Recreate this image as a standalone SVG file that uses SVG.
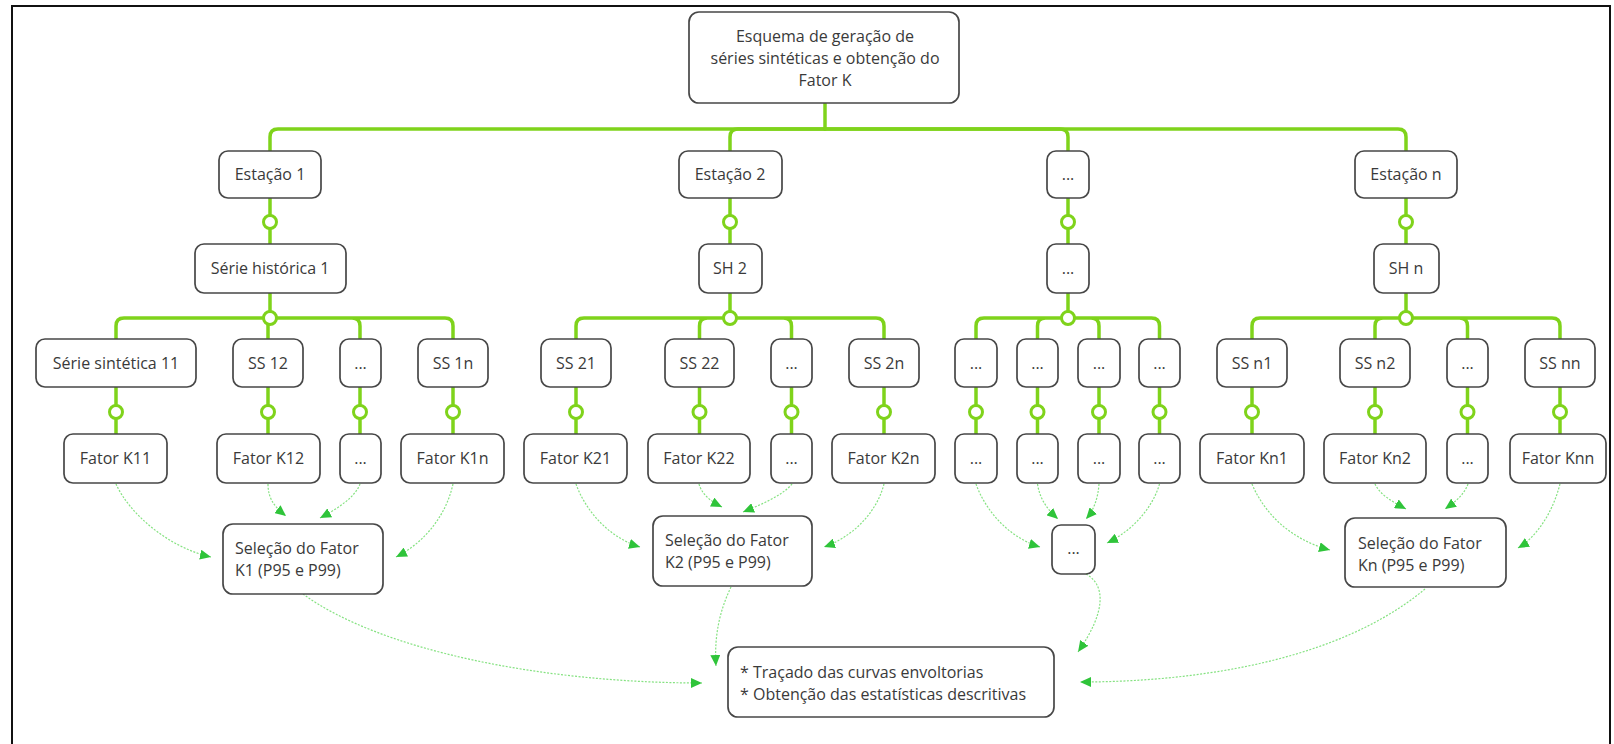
<svg xmlns="http://www.w3.org/2000/svg" width="1614" height="744" viewBox="0 0 1614 744">
<style>
.box{fill:#fff;stroke:#474747;stroke-width:1.7}
.t{font-family:"Open Sans","Liberation Sans",sans-serif;font-size:16px;fill:#3a3a3a}
.c{text-anchor:middle}
.bus{fill:none;stroke:#7fd31b;stroke-width:3.5;stroke-linecap:round;stroke-linejoin:round}
.dot{fill:#fff;stroke:#7fd31b;stroke-width:3}
.arr{fill:none;stroke:#86e282;stroke-width:1.2;stroke-dasharray:2 1.5;marker-end:url(#ah)}
</style>
<defs>
<marker id="ah" markerWidth="12" markerHeight="10" refX="11" refY="5" orient="auto" markerUnits="userSpaceOnUse">
<path d="M0,0 L11,5 L0,10 Z" fill="#2fc43a"/>
</marker>
</defs>
<rect width="1614" height="744" fill="#fff"/>
<path d="M12,746 V6 H1610 V746" fill="none" stroke="#111" stroke-width="2"/>

<g id="connectors">
<path class="bus" d="M825,103 V129"/>
<path class="bus" d="M825,129 H278 Q270,129 270,137 V151"/>
<path class="bus" d="M825,129 H738 Q730,129 730,137 V151"/>
<path class="bus" d="M825,129 H1060 Q1068,129 1068,137 V151"/>
<path class="bus" d="M825,129 H1398 Q1406,129 1406,137 V151"/>
<path class="bus" d="M270,198 V244 M730,198 V244 M1068,198 V244 M1406,198 V244"/>
<circle class="dot" cx="270" cy="222" r="6.5"/>
<circle class="dot" cx="730" cy="222" r="6.5"/>
<circle class="dot" cx="1068" cy="222" r="6.5"/>
<circle class="dot" cx="1406" cy="222" r="6.5"/>
<path class="bus" d="M270,293 V318 M270,318 H124 Q116,318 116,326 V339 M270,318 H268 V339 M270,318 H352 Q360,318 360,326 V339 M270,318 H445 Q453,318 453,326 V339"/>
<path class="bus" d="M730,293 V318 M730,318 H584 Q576,318 576,326 V339 M730,318 H707.5 Q699.5,318 699.5,326 V339 M730,318 H783.5 Q791.5,318 791.5,326 V339 M730,318 H876 Q884,318 884,326 V339"/>
<path class="bus" d="M1068,293 V318 M1068,318 H984 Q976,318 976,326 V339 M1068,318 H1045.5 Q1037.5,318 1037.5,326 V339 M1068,318 H1091 Q1099,318 1099,326 V339 M1068,318 H1151.5 Q1159.5,318 1159.5,326 V339"/>
<path class="bus" d="M1406,293 V318 M1406,318 H1260 Q1252,318 1252,326 V339 M1406,318 H1383 Q1375,318 1375,326 V339 M1406,318 H1459.5 Q1467.5,318 1467.5,326 V339 M1406,318 H1552 Q1560,318 1560,326 V339"/>
<circle class="dot" cx="270" cy="318" r="6.5"/>
<circle class="dot" cx="730" cy="318" r="6.5"/>
<circle class="dot" cx="1068" cy="318" r="6.5"/>
<circle class="dot" cx="1406" cy="318" r="6.5"/>
<path class="bus" d="M116,387 V434 M268,387 V434 M360,387 V434 M453,387 V434 M576,387 V434 M699.5,387 V434 M791.5,387 V434 M884,387 V434 M976,387 V434 M1037.5,387 V434 M1099,387 V434 M1159.5,387 V434 M1252,387 V434 M1375,387 V434 M1467.5,387 V434 M1560,387 V434"/>
<g>
<circle class="dot" cx="116" cy="412" r="6.5"/>
<circle class="dot" cx="268" cy="412" r="6.5"/>
<circle class="dot" cx="360" cy="412" r="6.5"/>
<circle class="dot" cx="453" cy="412" r="6.5"/>
<circle class="dot" cx="576" cy="412" r="6.5"/>
<circle class="dot" cx="699.5" cy="412" r="6.5"/>
<circle class="dot" cx="791.5" cy="412" r="6.5"/>
<circle class="dot" cx="884" cy="412" r="6.5"/>
<circle class="dot" cx="976" cy="412" r="6.5"/>
<circle class="dot" cx="1037.5" cy="412" r="6.5"/>
<circle class="dot" cx="1099" cy="412" r="6.5"/>
<circle class="dot" cx="1159.5" cy="412" r="6.5"/>
<circle class="dot" cx="1252" cy="412" r="6.5"/>
<circle class="dot" cx="1375" cy="412" r="6.5"/>
<circle class="dot" cx="1467.5" cy="412" r="6.5"/>
<circle class="dot" cx="1560" cy="412" r="6.5"/>
</g>
<path class="arr" d="M116,484 C130,515 170,548 211,557"/>
<path class="arr" d="M268,484 C268,500 276,508 286,516"/>
<path class="arr" d="M360,484 C355,498 335,510 320,518"/>
<path class="arr" d="M453,484 C445,520 420,545 396,557"/>
<path class="arr" d="M576,484 C586,512 610,538 640,547"/>
<path class="arr" d="M699,484 C702,495 712,502 722,507"/>
<path class="arr" d="M792,484 C782,496 760,505 743,512"/>
<path class="arr" d="M884,484 C876,515 850,538 824,547"/>
<path class="arr" d="M976,484 C986,512 1010,538 1040,547"/>
<path class="arr" d="M1037.5,484 C1040,500 1048,510 1058,519"/>
<path class="arr" d="M1099,484 C1098,498 1094,510 1086,519"/>
<path class="arr" d="M1159.5,484 C1152,510 1130,532 1107,543"/>
<path class="arr" d="M1252,484 C1265,515 1292,540 1330,550"/>
<path class="arr" d="M1375,484 C1380,495 1393,502 1406,509"/>
<path class="arr" d="M1468,484 C1464,495 1455,502 1445,509"/>
<path class="arr" d="M1560,484 C1552,515 1535,538 1518,548"/>
<path class="arr" d="M303,594 C380,650 540,683 702,683"/>
<path class="arr" d="M731,587 C720,610 714,635 716,666"/>
<path class="arr" d="M1086,574 C1106,585 1106,612 1078,652"/>
<path class="arr" d="M1425,589 C1340,660 1200,682 1080,682"/>
</g>

<g id="root"><rect class="box" x="689" y="12" width="270" height="91" rx="10"/>
<text class="t c" x="825" y="42">Esquema de geração de</text>
<text class="t c" x="825" y="64">séries sintéticas e obtenção do</text>
<text class="t c" x="825" y="86">Fator K</text></g>

<g id="est1"><rect class="box" x="219" y="151" width="102" height="47" rx="9"/><text class="t c" x="270" y="180">Estação 1</text></g>
<g id="est2"><rect class="box" x="679" y="151" width="103" height="47" rx="9"/><text class="t c" x="730" y="180">Estação 2</text></g>
<g id="estd"><rect class="box" x="1047" y="151" width="42" height="47" rx="9"/><text class="t c" x="1068" y="180">...</text></g>
<g id="estn"><rect class="box" x="1355" y="151" width="102" height="47" rx="9"/><text class="t c" x="1406" y="180">Estação n</text></g>

<g id="sh1"><rect class="box" x="195" y="244" width="151" height="49" rx="9"/><text class="t c" x="270" y="274">Série histórica 1</text></g>
<g id="sh2"><rect class="box" x="699" y="244" width="63" height="49" rx="9"/><text class="t c" x="730" y="274">SH 2</text></g>
<g id="shd"><rect class="box" x="1047" y="244" width="42" height="49" rx="9"/><text class="t c" x="1068" y="274">...</text></g>
<g id="shn"><rect class="box" x="1374" y="244" width="65" height="49" rx="9"/><text class="t c" x="1406" y="274">SH n</text></g>

<g id="ss11"><rect class="box" x="36" y="339" width="160" height="48" rx="9"/><text class="t c" x="116" y="369">Série sintética 11</text></g>
<g id="ss12"><rect class="box" x="233" y="339" width="70" height="48" rx="9"/><text class="t c" x="268" y="369">SS 12</text></g>
<g id="ss1d"><rect class="box" x="340" y="339" width="41" height="48" rx="9"/><text class="t c" x="360.5" y="369">...</text></g>
<g id="ss1n"><rect class="box" x="418" y="339" width="70" height="48" rx="9"/><text class="t c" x="453" y="369">SS 1n</text></g>
<g id="ss21"><rect class="box" x="541" y="339" width="70" height="48" rx="9"/><text class="t c" x="576" y="369">SS 21</text></g>
<g id="ss22"><rect class="box" x="665" y="339" width="69" height="48" rx="9"/><text class="t c" x="699.5" y="369">SS 22</text></g>
<g id="ss2d"><rect class="box" x="771" y="339" width="41" height="48" rx="9"/><text class="t c" x="791.5" y="369">...</text></g>
<g id="ss2n"><rect class="box" x="849" y="339" width="70" height="48" rx="9"/><text class="t c" x="884" y="369">SS 2n</text></g>
<g id="ssd1"><rect class="box" x="955" y="339" width="42" height="48" rx="9"/><text class="t c" x="976" y="369">...</text></g>
<g id="ssd2"><rect class="box" x="1017" y="339" width="41" height="48" rx="9"/><text class="t c" x="1037.5" y="369">...</text></g>
<g id="ssd3"><rect class="box" x="1078" y="339" width="42" height="48" rx="9"/><text class="t c" x="1099" y="369">...</text></g>
<g id="ssd4"><rect class="box" x="1139" y="339" width="41" height="48" rx="9"/><text class="t c" x="1159.5" y="369">...</text></g>
<g id="ssn1"><rect class="box" x="1217" y="339" width="70" height="48" rx="9"/><text class="t c" x="1252" y="369">SS n1</text></g>
<g id="ssn2"><rect class="box" x="1340" y="339" width="70" height="48" rx="9"/><text class="t c" x="1375" y="369">SS n2</text></g>
<g id="ssnd"><rect class="box" x="1447" y="339" width="41" height="48" rx="9"/><text class="t c" x="1467.5" y="369">...</text></g>
<g id="ssnn"><rect class="box" x="1525" y="339" width="70" height="48" rx="9"/><text class="t c" x="1560" y="369">SS nn</text></g>

<g id="k11"><rect class="box" x="64" y="434" width="103" height="49" rx="9"/><text class="t c" x="115.5" y="464">Fator K11</text></g>
<g id="k12"><rect class="box" x="217" y="434" width="103" height="49" rx="9"/><text class="t c" x="268.5" y="464">Fator K12</text></g>
<g id="k1d"><rect class="box" x="340" y="434" width="41" height="49" rx="9"/><text class="t c" x="360.5" y="464">...</text></g>
<g id="k1n"><rect class="box" x="401" y="434" width="103" height="49" rx="9"/><text class="t c" x="452.5" y="464">Fator K1n</text></g>
<g id="k21"><rect class="box" x="524" y="434" width="103" height="49" rx="9"/><text class="t c" x="575.5" y="464">Fator K21</text></g>
<g id="k22"><rect class="box" x="648" y="434" width="102" height="49" rx="9"/><text class="t c" x="699" y="464">Fator K22</text></g>
<g id="k2d"><rect class="box" x="771" y="434" width="41" height="49" rx="9"/><text class="t c" x="791.5" y="464">...</text></g>
<g id="k2n"><rect class="box" x="832" y="434" width="103" height="49" rx="9"/><text class="t c" x="883.5" y="464">Fator K2n</text></g>
<g id="kd1"><rect class="box" x="955" y="434" width="42" height="49" rx="9"/><text class="t c" x="976" y="464">...</text></g>
<g id="kd2"><rect class="box" x="1017" y="434" width="41" height="49" rx="9"/><text class="t c" x="1037.5" y="464">...</text></g>
<g id="kd3"><rect class="box" x="1078" y="434" width="42" height="49" rx="9"/><text class="t c" x="1099" y="464">...</text></g>
<g id="kd4"><rect class="box" x="1139" y="434" width="41" height="49" rx="9"/><text class="t c" x="1159.5" y="464">...</text></g>
<g id="kn1"><rect class="box" x="1200" y="434" width="104" height="49" rx="9"/><text class="t c" x="1252" y="464">Fator Kn1</text></g>
<g id="kn2"><rect class="box" x="1324" y="434" width="102" height="49" rx="9"/><text class="t c" x="1375" y="464">Fator Kn2</text></g>
<g id="knd"><rect class="box" x="1447" y="434" width="41" height="49" rx="9"/><text class="t c" x="1467.5" y="464">...</text></g>
<g id="knn"><rect class="box" x="1510" y="434" width="96" height="49" rx="9"/><text class="t c" x="1558" y="464">Fator Knn</text></g>

<g id="sel1"><rect class="box" x="223" y="524" width="160" height="70" rx="10"/>
<text class="t" x="235" y="554">Seleção do Fator</text><text class="t" x="235" y="576">K1 (P95 e P99)</text></g>
<g id="sel2"><rect class="box" x="653" y="516" width="159" height="70" rx="10"/>
<text class="t" x="665" y="546">Seleção do Fator</text><text class="t" x="665" y="568">K2 (P95 e P99)</text></g>
<g id="seld"><rect class="box" x="1052" y="525" width="43" height="49" rx="9"/><text class="t c" x="1073.5" y="554">...</text></g>
<g id="seln"><rect class="box" x="1345" y="518" width="161" height="69" rx="10"/>
<text class="t" x="1358" y="549">Seleção do Fator</text><text class="t" x="1358" y="571">Kn (P95 e P99)</text></g>

<g id="final"><rect class="box" x="728" y="647" width="326" height="70" rx="10"/>
<text class="t" x="740" y="678">* Traçado das curvas envoltorias</text>
<text class="t" x="740" y="700">* Obtenção das estatísticas descritivas</text></g>
</svg>
